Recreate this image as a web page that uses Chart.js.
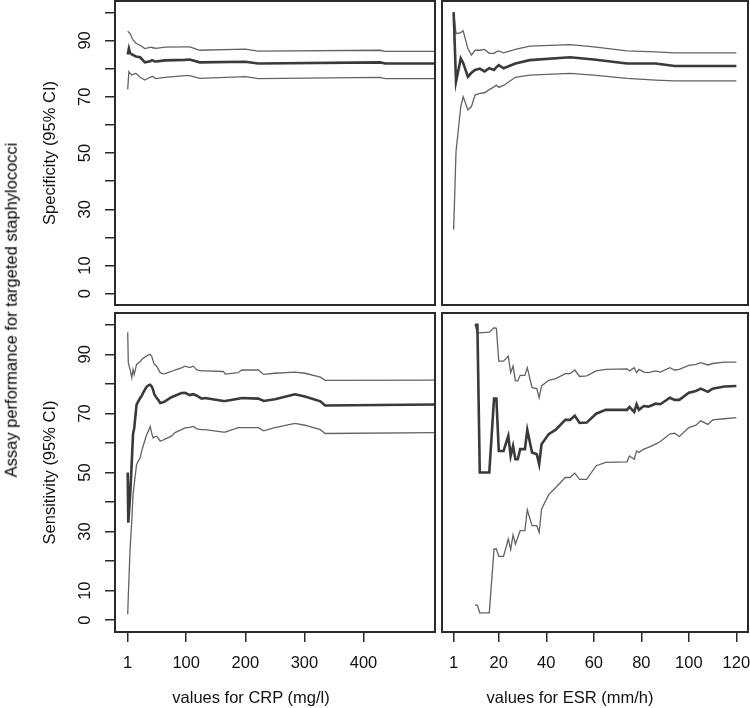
<!DOCTYPE html>
<html>
<head>
<meta charset="utf-8">
<script src="https://cdn.jsdelivr.net/npm/chart.js@4.4.1/dist/chart.umd.min.js"></script>
<style>
  html, body { margin: 0; padding: 0; background: #fff; }
  #fig { position: relative; width: 750px; height: 708px; overflow: hidden;
         font-family: "Liberation Sans", Arial, sans-serif; }
  #fig canvas { position: absolute; left: 0; top: 0; }
  .lab { position: absolute; white-space: nowrap; font-size: 16.5px; line-height: 1;
         color: #111; transform: translate(-50%, -50%); }
  .lab.rot { color: #000; transform: translate(-50%, -50%) rotate(-90deg); }
</style>
</head>
<body>
<div id="fig">
  <canvas id="crpSpec" width="750" height="708"></canvas>
  <canvas id="esrSpec" width="750" height="708"></canvas>
  <canvas id="crpSens" width="750" height="708"></canvas>
  <canvas id="esrSens" width="750" height="708"></canvas>
  <div class="lab rot" style="left:11px; top:310px;">Assay performance for targeted staphylococci</div>
  <div class="lab" style="left:251px; top:697px;">values for CRP (mg/l)</div>
  <div class="lab" style="left:570px; top:697px;">values for ESR (mm/h)</div>
</div>
<script>
// tick marks
const yTicks = [0, 10, 20, 30, 40, 50, 60, 70, 80, 90, 100];
const yTickLabels = [0, 10, 30, 50, 70, 90];
const crpTicks = [1, 100, 200, 300, 400];
const esrTicks = [1, 20, 40, 60, 80, 100, 120];

// CRP - specificity
const crpSpecX = [1, 3, 5, 8, 10, 13, 15, 22, 30, 39, 42, 44, 47, 49, 64, 98, 106, 123, 200, 222, 428, 437, 521];
const crpSpecEst = [85, 87.1, 85.5, 85, 84.8, 84.5, 84.3, 84, 82.2, 82.6, 83, 82.8, 82.5, 82.5, 82.9, 83.1, 83.2, 82.2, 82.4, 81.8, 82.2, 81.8, 81.8];
const crpSpecHigh = [93.3, 92.8, 92.5, 91, 90.2, 89.5, 89, 88.3, 87.1, 87.5, 87.6, 87.3, 87.3, 87.2, 87.6, 87.7, 87.7, 86.5, 86.9, 86.2, 86.5, 86.1, 86.1];
const crpSpecLow = [72.6, 78.9, 78.3, 77.7, 77.9, 78.2, 78.3, 76.9, 75.9, 76.9, 77.1, 77.2, 76.6, 76.4, 76.9, 77.5, 77.5, 76.5, 77.1, 76.4, 76.9, 76.4, 76.4];

// ESR - specificity
const esrSpecX = [1, 2, 4, 5, 7, 8.5, 10, 12, 14, 16, 18, 19, 20, 22, 27, 33, 50, 60, 74, 86, 94, 110, 120];
const esrSpecEst = [100, 75.3, 83.6, 82, 77.1, 78.5, 79.5, 80, 79, 80.1, 79.5, 80.5, 81.2, 80.1, 81.8, 83, 84, 83.2, 81.8, 81.8, 80.9, 80.9, 80.9];
const esrSpecHigh = [100, 92.4, 92.8, 93.4, 87.1, 84.8, 86.5, 86.5, 86.8, 85.4, 85.4, 86, 86.3, 85.6, 86.8, 88, 88.5, 87.7, 86.3, 85.9, 85.6, 85.6, 85.6];
const esrSpecLow = [22.8, 50.5, 66.5, 70, 65.3, 66.5, 70.6, 71.2, 71.4, 72.5, 73.5, 74.1, 73.3, 74, 76.9, 77.7, 78.3, 77.7, 76.5, 75.9, 75.6, 75.6, 75.6];

// CRP - sensitivity
const crpSensX = [1, 2, 5, 8, 10, 12, 16, 22, 25, 27, 33, 36, 39, 42, 44, 46, 50, 53, 56, 61, 64, 75, 81, 92, 98, 106, 112, 118, 126, 132, 163, 166, 188, 194, 222, 231, 250, 284, 301, 327, 335, 521];
const crpSensEst = [50, 33, 42, 54, 63, 65, 73, 75.2, 76, 77, 79, 79.5, 79.7, 79, 78, 76.5, 75.2, 74.5, 73.5, 73.8, 74.1, 75.5, 76, 76.9, 77, 76.2, 76.5, 76, 75, 75.2, 74.2, 74.2, 75, 75.2, 75, 74.2, 74.8, 76.5, 75.7, 74.1, 72.7, 73];
const crpSensHigh = [97.5, 87.2, 84.9, 82.1, 84.9, 83.2, 86.6, 87.5, 88.3, 88.7, 89.4, 89.8, 90, 89.2, 87.8, 86.6, 86, 84.9, 83.8, 83.4, 83.5, 84.2, 84.7, 85.4, 86, 85.5, 86, 84.7, 84.4, 84.4, 84.2, 83.3, 83.8, 84.7, 84.7, 83.2, 83.6, 84, 83.6, 82.3, 81.2, 81.3];
const crpSensLow = [2, 8, 24, 34, 42.6, 46, 52.7, 55, 57.5, 58.9, 62.8, 64, 65.6, 63, 61.7, 62, 62.3, 61.5, 60.6, 61, 61.3, 62.3, 63.5, 64.5, 65.1, 65.3, 65.6, 64.8, 64.5, 64.5, 63.7, 63.7, 65.2, 65.2, 65.2, 64.1, 65.2, 66.6, 66, 64.5, 63.2, 63.5];

// ESR - sensitivity
const esrSensX = [10, 11, 12, 16, 18, 19, 20, 22, 24, 25, 26, 27, 28, 29, 31, 32, 34, 36, 37, 38, 41, 44, 48, 50, 52, 54, 57, 61, 65, 74, 75, 77, 78, 79, 81, 83, 86, 88, 92, 94, 96, 100, 103, 105, 108, 110, 115, 120];
const esrSensEst = [100, 100, 50, 50, 75, 75, 57.3, 57.3, 62.4, 55.6, 59, 54.5, 54.5, 57.9, 57.9, 64.4, 56.8, 56.2, 52.8, 59.6, 63, 64.5, 67.8, 67.8, 69.2, 66.8, 66.9, 69.9, 71.2, 71.2, 72.2, 70.5, 73.1, 71.2, 72.5, 72.3, 73.3, 73.1, 75.3, 74.6, 74.6, 77, 77.6, 78.4, 77.3, 78.4, 79.1, 79.3];
const esrSensHigh = [100, 97.3, 97.3, 97.5, 99, 98.8, 87.7, 87.7, 89.4, 83.8, 86, 81, 81, 82.9, 82.9, 85.5, 78.7, 78.4, 75.3, 79.3, 81.2, 81.8, 83.5, 83.5, 84.7, 82.5, 82.7, 84.4, 84.9, 85.1, 84.4, 85.5, 83.8, 84.9, 84, 83.8, 84.4, 84, 85.5, 84.7, 84.9, 86.3, 86.6, 87.2, 86.4, 86.9, 87.4, 87.4];
const esrSensLow = [5.2, 5, 2.5, 2.5, 24.1, 24.1, 21.6, 21.6, 27.5, 23.9, 28.8, 25.8, 28, 30.3, 30.3, 37.4, 32, 32, 29.7, 37.6, 42.5, 44.9, 48.3, 48.3, 49.8, 47.7, 47.7, 52.3, 53.4, 53.6, 55.6, 54.5, 57.3, 56.8, 57.9, 58.5, 59.6, 60.5, 63, 63.3, 62.2, 65.2, 66, 67.5, 66.3, 67.8, 68.2, 68.6];

Chart.defaults.font.family = '"Liberation Sans", Arial, sans-serif';
Chart.defaults.font.size = 16.5;
Chart.defaults.color = '#111';

// box round the plot region, like R's box()
const boxPlugin = {
    id: 'box',
    afterDraw(chart) {
        const { ctx, chartArea: a } = chart;
        ctx.save();
        ctx.strokeStyle = '#2a2a2a';
        ctx.lineWidth = 2;
        ctx.strokeRect(a.left, a.top, a.right - a.left, a.bottom - a.top);
        ctx.restore();
    }
};

function line(xs, ys, width, color) {
    return {
        data: xs.map((v, i) => ({ x: v, y: ys[i] })),
        showLine: true,
        borderColor: color,
        borderWidth: width,
        pointRadius: 0,
        tension: 0,
        fill: false,
    };
}

const tickGrid = { drawOnChartArea: false, drawTicks: true, tickLength: 10, color: '#2a2a2a', lineWidth: 1.5 };

function panel(id, xs, est, lo, hi, o) {
    const showX = !!o.xTicks;
    const showY = !!o.yTitle;
    new Chart(document.getElementById(id), {
        type: 'scatter',
        data: {
            datasets: [
                line(xs, est, 2.6, '#3a3a3a'),
                line(xs, hi, 1.3, '#636363'),
                line(xs, lo, 1.3, '#636363'),
            ]
        },
        options: {
            responsive: false,
            animation: false,
            events: [],
            layout: { padding: o.pad },
            plugins: { legend: { display: false }, tooltip: { enabled: false } },
            scales: {
                x: {
                    type: 'linear',
                    min: o.xMin,
                    max: o.xMax,
                    display: showX,
                    afterBuildTicks: s => { s.ticks = (o.xTicks || []).map(v => ({ value: v })); },
                    ticks: { autoSkip: false, minRotation: 0, maxRotation: 0, padding: 12, callback: v => String(v) },
                    grid: tickGrid,
                    border: { display: false },
                    afterFit: s => {
                        s.height = showX ? 76 : 0;
                        s.paddingLeft = 0; s.paddingRight = 0;
                    },
                },
                y: {
                    type: 'linear',
                    min: -4,
                    max: 104,
                    display: showY,
                    afterBuildTicks: s => { s.ticks = yTicks.map(v => ({ value: v })); },
                    ticks: {
                        autoSkip: false, minRotation: 90, maxRotation: 90, crossAlign: 'center', padding: 10.8,
                        callback: v => yTickLabels.includes(v) ? String(v) : ''
                    },
                    grid: tickGrid,
                    border: { display: false },
                    title: { display: showY, text: o.yTitle, padding: { top: 11, bottom: 0 } },
                    afterFit: s => {
                        s.width = showY ? 85 : 0;
                        s.paddingTop = 0; s.paddingBottom = 0;
                    },
                },
            },
        },
        plugins: [boxPlugin],
    });
}

panel('crpSpec', crpSpecX, crpSpecEst, crpSpecLow, crpSpecHigh, {
    pad: { left: 30, right: 315, top: 1, bottom: 403 },
    xMin: -20.5, xMax: 521, yTitle: 'Specificity (95% CI)'
});
panel('esrSpec', esrSpecX, esrSpecEst, esrSpecLow, esrSpecHigh, {
    pad: { left: 442, right: 2, top: 1, bottom: 403 },
    xMin: -3.9, xMax: 124.9
});
panel('crpSens', crpSensX, crpSensEst, crpSensLow, crpSensHigh, {
    pad: { left: 30, right: 315, top: 313, bottom: 0 },
    xMin: -20.5, xMax: 521, xTicks: crpTicks, yTitle: 'Sensitivity (95% CI)'
});
panel('esrSens', esrSensX, esrSensEst, esrSensLow, esrSensHigh, {
    pad: { left: 442, right: 2, top: 313, bottom: 0 },
    xMin: -3.9, xMax: 124.9, xTicks: esrTicks
});
</script>
</body>
</html>
